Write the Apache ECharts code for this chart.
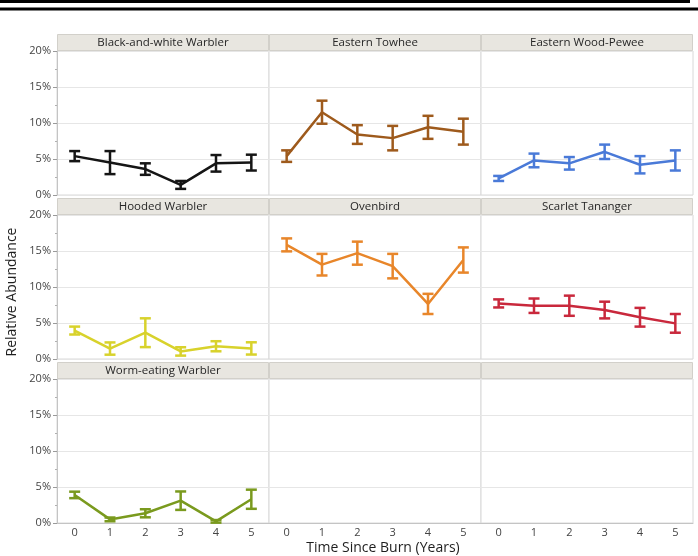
<!DOCTYPE html>
<html>
<head>
<meta charset="utf-8">
<script src="https://cdn.jsdelivr.net/npm/echarts@6/dist/echarts.min.js"></script>
<style>
  html, body { margin: 0; padding: 0; background: #fff; }
  #chart { width: 698px; height: 556px; }
</style>
</head>
<body>
<div id="chart"></div>
<script>
// Years since prescribed burn (x categories)
const years = ['0', '1', '2', '3', '4', '5'];
const yTicks = [0, 5, 10, 15, 20];

// Panel titles, row by row (empty strings are blank panels)
const panelTitles = [
  'Black-and-white Warbler', 'Eastern Towhee', 'Eastern Wood-Pewee',
  'Hooded Warbler', 'Ovenbird', 'Scarlet Tananger',
  'Worm-eating Warbler', '', ''
];

// Mean relative abundance (%) and half-width of the error bar (%)
const bawwMean = [5.4, 4.5, 3.6, 1.4, 4.4, 4.5];
const bawwErr  = [0.7, 1.6, 0.8, 0.55, 1.15, 1.1];

const etowMean = [5.4, 11.5, 8.4, 7.9, 9.4, 8.8];
const etowErr  = [0.8, 1.6, 1.3, 1.7, 1.6, 1.8];

const ewpeMean = [2.3, 4.8, 4.4, 6.0, 4.2, 4.8];
const ewpeErr  = [0.35, 0.95, 0.87, 1.0, 1.2, 1.4];

const howaMean = [3.95, 1.45, 3.65, 1.05, 1.77, 1.47];
const howaErr  = [0.55, 0.85, 2.0, 0.58, 0.7, 0.85];

const ovenMean = [15.85, 13.1, 14.7, 12.9, 7.65, 13.75];
const ovenErr  = [0.9, 1.5, 1.6, 1.7, 1.4, 1.75];

const sctaMean = [7.72, 7.4, 7.4, 6.8, 5.8, 4.95];
const sctaErr  = [0.56, 1.0, 1.4, 1.16, 1.3, 1.3];

const wewaMean = [3.9, 0.5, 1.35, 3.1, 0.23, 3.3];
const wewaErr  = [0.45, 0.26, 0.56, 1.28, 0.18, 1.33];

// Species series: panel index, values, error, colour
const speciesSeries = [
  { panel: 0, mean: bawwMean, err: bawwErr, color: '#151515' },
  { panel: 1, mean: etowMean, err: etowErr, color: '#9e5a1c' },
  { panel: 2, mean: ewpeMean, err: ewpeErr, color: '#4a7ad8' },
  { panel: 3, mean: howaMean, err: howaErr, color: '#d8d22c' },
  { panel: 4, mean: ovenMean, err: ovenErr, color: '#e8862a' },
  { panel: 5, mean: sctaMean, err: sctaErr, color: '#c9283c' },
  { panel: 6, mean: wewaMean, err: wewaErr, color: '#7a9a1e' }
];

// Facet layout (pixels)
const L = { left: 57, colW: 212, top: 51, rowStep: 164, plotH: 144, stripH: 17 };
const FONT = '"Open Sans", "Noto Sans", sans-serif';

const grids = [], xAxes = [], yAxes = [], series = [], graphics = [];

for (let p = 0; p < 9; p++) {
  const r = Math.floor(p / 3), c = p % 3;
  const gx = L.left + c * L.colW, gy = L.top + r * L.rowStep;
  grids.push({
    left: gx, top: gy, width: L.colW, height: L.plotH,
    show: true, backgroundColor: '#ffffff', borderColor: '#d8d8d8', borderWidth: 1
  });
  const bottomRow = r === 2, firstCol = c === 0;
  xAxes.push({
    type: 'category', gridIndex: p, data: years, boundaryGap: true,
    axisLine: { show: bottomRow, lineStyle: { color: '#c4c4c4' } },
    axisTick: { show: false },
    axisLabel: { show: bottomRow, color: '#444', fontSize: 11, fontFamily: FONT, margin: 4 },
    splitLine: { show: false }
  });
  yAxes.push({
    type: 'value', gridIndex: p, min: yTicks[0], max: yTicks[yTicks.length - 1], interval: 5,
    axisLine: { show: firstCol, lineStyle: { color: '#c4c4c4' } },
    axisTick: { show: firstCol, length: 4, lineStyle: { color: '#9a9a9a' } },
    minorTick: { show: firstCol, splitNumber: 2, length: 2, lineStyle: { color: '#b0b0b0' } },
    axisLabel: { show: firstCol, color: '#444', fontSize: 11, fontFamily: FONT, margin: 6,
                 formatter: '{value}%' },
    splitLine: { show: true, lineStyle: { color: '#e6e6e6', width: 1 } }
  });
  // Facet header strip
  graphics.push({
    type: 'rect', silent: true,
    shape: { x: gx + 0.5, y: gy - L.stripH + 0.5, width: L.colW - 1, height: L.stripH - 1 },
    style: { fill: '#e8e6e0', stroke: '#d2d0ca', lineWidth: 1 }
  });
  if (panelTitles[p]) {
    graphics.push({
      type: 'text', silent: true,
      x: gx + L.colW / 2, y: gy - L.stripH / 2,
      style: { text: panelTitles[p], fill: '#262626', font: '11.5px ' + FONT,
               align: 'center', verticalAlign: 'middle' }
    });
  }
}

speciesSeries.forEach(s => {
  series.push({
    type: 'line', xAxisIndex: s.panel, yAxisIndex: s.panel,
    data: s.mean, symbol: 'none', z: 3,
    lineStyle: { color: s.color, width: 2.5 }, itemStyle: { color: s.color }
  });
  series.push({
    type: 'custom', xAxisIndex: s.panel, yAxisIndex: s.panel, z: 4,
    data: s.mean.map((m, i) => [i, m - s.err[i], m + s.err[i]]),
    encode: { x: 0, y: [1, 2] },
    renderItem: (params, api) => {
      const hi = api.coord([api.value(0), api.value(2)]);
      const lo = api.coord([api.value(0), api.value(1)]);
      const hw = 5.5;
      const st = { stroke: s.color, lineWidth: 2.5 };
      return {
        type: 'group',
        children: [
          { type: 'line', shape: { x1: hi[0], y1: hi[1], x2: lo[0], y2: lo[1] }, style: st },
          { type: 'line', shape: { x1: hi[0] - hw, y1: hi[1], x2: hi[0] + hw, y2: hi[1] }, style: st },
          { type: 'line', shape: { x1: lo[0] - hw, y1: lo[1], x2: lo[0] + hw, y2: lo[1] }, style: st }
        ]
      };
    }
  });
});

// Double rule at the top of the figure
graphics.push({ type: 'line', silent: true, shape: { x1: 0, y1: 1.5, x2: 690, y2: 1.5 },
                style: { stroke: '#000', lineWidth: 3 } });
graphics.push({ type: 'line', silent: true, shape: { x1: 0, y1: 9, x2: 698, y2: 9 },
                style: { stroke: '#000', lineWidth: 3 } });

// Axis titles
graphics.push({
  type: 'text', silent: true, x: 12, y: 292, rotation: Math.PI / 2,
  style: { text: 'Relative Abundance', fill: '#1e1e1e', font: '14px ' + FONT,
           align: 'center', verticalAlign: 'middle' }
});
graphics.push({
  type: 'text', silent: true, x: 383, y: 548,
  style: { text: 'Time Since Burn (Years)', fill: '#1e1e1e', font: '14px ' + FONT,
           align: 'center', verticalAlign: 'middle' }
});

const chart = echarts.init(document.getElementById('chart'), null, { renderer: 'canvas' });
chart.setOption({
  backgroundColor: '#ffffff',
  animation: false,
  grid: grids,
  xAxis: xAxes,
  yAxis: yAxes,
  series: series,
  graphic: graphics
});
</script>
</body>
</html>
